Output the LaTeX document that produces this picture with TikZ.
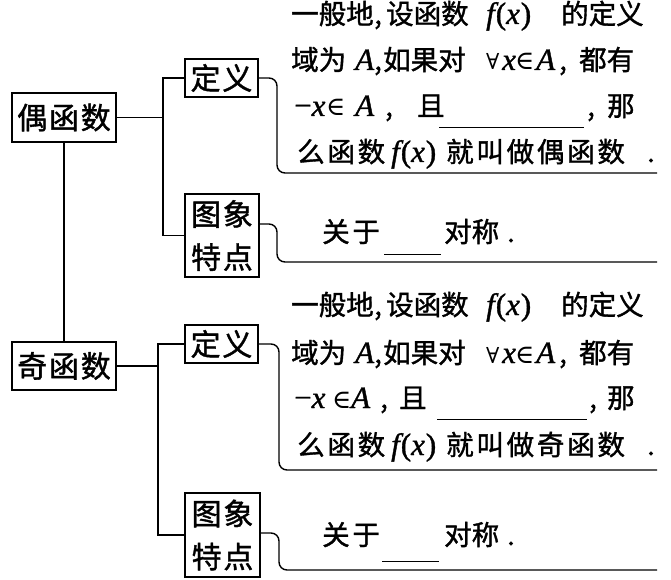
\documentclass[tikz,border=0pt]{standalone}
\usepackage{fontspec}
\setmainfont{Noto Sans CJK SC}[FakeBold=1.3]
\newfontfamily\boxfont{Noto Sans CJK SC}[FakeBold=1.3,LetterSpace=6]
\newfontfamily\cjka{Noto Sans CJK SC}[FakeBold=1.3,LetterSpace=0]
\newfontfamily\cjkb{Noto Sans CJK SC}[FakeBold=1.3,LetterSpace=10]
\newfontfamily\mfont{Liberation Serif}[FakeBold=1.2]
\newfontfamily\symfont{DejaVu Serif}
\newcommand\mth[1]{{\fontsize{31}{32}\selectfont\mfont #1}}
\newcommand\vi[1]{\mth{\itshape #1}}
\newcommand\fx{\vi{f}\kern1pt\mth{(}\vi{x}\kern1pt\mth{)}}
\newcommand\sy[2][26]{{\fontsize{#1}{32}\selectfont\symfont #2}}
\newcommand\seg[2]{\rlap{\hspace{#1pt}#2}}
\newcommand\blank[2]{\rule[#1pt]{#2pt}{1.3pt}}
\begin{document}
\begin{tikzpicture}[x=1pt,y=-1pt,line width=1.4pt,
  boxn/.style={draw,inner sep=0pt,font=\fontsize{30}{43}\selectfont\boxfont,align=center},
  txt/.style={anchor=base west,inner sep=0pt,font=\fontsize{27.5}{32}\selectfont\cjka},
  brk/.style={rounded corners=8pt}]
\useasboundingbox (0,0) rectangle (671,580);
% ---------- even function ----------
\node[boxn,minimum width=104pt,minimum height=49pt] (ou) at (64,117.5) {偶函数};
\node[boxn,minimum width=73pt,minimum height=38pt] (od) at (221.5,78) {定义};
\node[boxn,minimum width=74pt,minimum height=83pt] (ot) at (222,235.5) {图象\\特点};
\coordinate (ob) at (163,117.5);
\draw (ou.east) -- (ob);
\draw (od.west) -| (ob) |- (ot.west);
\coordinate (odc) at (277,78);
\coordinate (ode) at (657,173);
\draw[brk] (od.east) -- (odc) |- (ode);
\coordinate (otc) at (277,224);
\coordinate (ote) at (657,262);
\draw[brk] (ot.east |- otc) -- (otc) |- (ote);
\node[txt] (o1) at (290,24) {\seg{0}{一般地}\seg{83}{,}\seg{95}{设函数}\seg{195}{\fx}\seg{270}{的定义}};
\node[txt] (o2) at (290,70) {\seg{0}{域为}\seg{64}{\vi{A}}\seg{83}{,}\seg{92}{如果对}\seg{195}{\sy[22]{∀}}\seg{211}{\vi{x}}\seg{224}{\sy{∈}}\seg{245}{\vi{A}}\seg{268}{,}\seg{288}{都有}};
\node[txt] (o3) at (290,116) {\seg{3}{\mth{−}\vi{x}}\seg{35}{\sy{∈}}\seg{64}{\vi{A}}\seg{94}{,}\seg{126}{且}\seg{148}{\blank{-12}{145}}\seg{296}{,}\seg{316}{那}};
\node[txt] (o4) at (290,162) {\seg{6}{\cjkb 么函数}\seg{100}{\fx}\seg{155}{\cjkb 就叫做偶函数}\seg{356}{.}};
\node[txt] (o5) at (290,242) {\seg{31}{\cjkb 关于}\seg{93}{\blank{-13}{57}}\seg{153}{对称}\seg{216}{.}};
% ---------- odd function ----------
\node[boxn,minimum width=104pt,minimum height=48pt] (ji) at (64,366) {奇函数};
\node[boxn,minimum width=73pt,minimum height=38pt] (jd) at (221.5,344) {定义};
\node[boxn,minimum width=75pt,minimum height=84pt] (jt) at (222.5,535) {图象\\特点};
\draw (ou.south) -- (ji.north);
\coordinate (jb) at (158,366);
\draw (ji.east) -- (jb);
\draw (jd.west) -| (jb) |- (jt.west);
\coordinate (jdc) at (279,344);
\coordinate (jde) at (657,470);
\draw[brk] (jd.east) -- (jdc) |- (jde);
\coordinate (jtc) at (279,533);
\coordinate (jte) at (657,570);
\draw[brk] (jt.east |- jtc) -- (jtc) |- (jte);
\node[txt] (j1) at (290,315) {\seg{0}{一般地}\seg{83}{,}\seg{95}{设函数}\seg{195}{\fx}\seg{270}{的定义}};
\node[txt] (j2) at (290,363) {\seg{0}{域为}\seg{64}{\vi{A}}\seg{83}{,}\seg{92}{如果对}\seg{195}{\sy[22]{∀}}\seg{211}{\vi{x}}\seg{224}{\sy{∈}}\seg{245}{\vi{A}}\seg{268}{,}\seg{288}{都有}};
\node[txt] (j3) at (290,408) {\seg{3}{\mth{−}\vi{x}}\seg{41}{\sy{∈}}\seg{60}{\vi{A}}\seg{89}{,}\seg{108}{且}\seg{146}{\blank{-12}{150}}\seg{298}{,}\seg{316}{那}};
\node[txt] (j4) at (290,455) {\seg{6}{\cjkb 么函数}\seg{100}{\fx}\seg{155}{\cjkb 就叫做奇函数}\seg{356}{.}};
\node[txt] (j5) at (290,545) {\seg{31}{\cjkb 关于}\seg{91}{\blank{-17}{57}}\seg{153}{对称}\seg{216}{.}};
\end{tikzpicture}
\end{document}
